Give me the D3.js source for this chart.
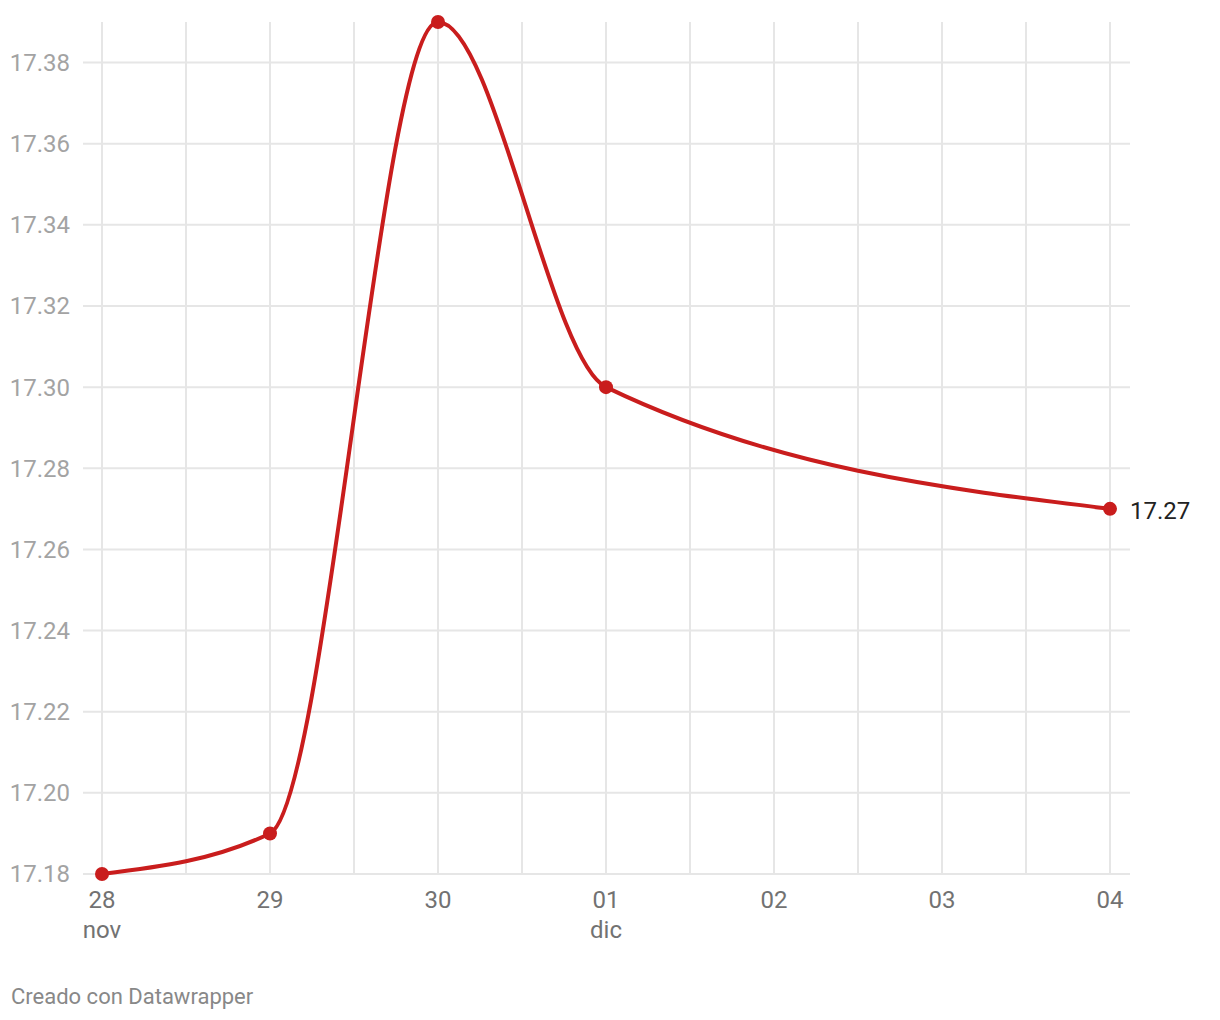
<!DOCTYPE html>
<html>
<head>
<meta charset="utf-8">
<script src="https://cdn.jsdelivr.net/npm/d3@7"></script>
<style>
  html, body { margin: 0; padding: 0; background: #fff; }
  svg { display: block; font-family: Roboto, "Noto Sans", sans-serif; }
</style>
</head>
<body>
<svg id="chart" width="1220" height="1020"></svg>
<script>
// ---- data ----
const dates = ["2023-11-28", "2023-11-29", "2023-11-30", "2023-12-01", "2023-12-04"];
const values = [17.18, 17.19, 17.39, 17.30, 17.27];
const yTicks = [17.18, 17.20, 17.22, 17.24, 17.26, 17.28, 17.30, 17.32, 17.34, 17.36, 17.38];
const xTickDates = ["2023-11-28", "2023-11-29", "2023-11-30", "2023-12-01", "2023-12-02", "2023-12-03", "2023-12-04"];
const xTickLabels = ["28", "29", "30", "01", "02", "03", "04"];
const xMonthLabels = ["nov", "", "", "dic", "", "", ""];
const footerText = "Creado con Datawrapper";

const parse = d3.utcParse("%Y-%m-%d");
const data = dates.map((d, i) => ({ date: parse(d), value: values[i] }));

const svg = d3.select("#chart");
const mLeft = 102, mRight = 1110, mTop = 22, mBottom = 874;

const x = d3.scaleUtc()
  .domain([parse(dates[0]), parse(dates[dates.length - 1])])
  .range([mLeft, mRight]);
const y = d3.scaleLinear()
  .domain([17.18, 17.39])
  .range([mBottom, mTop]);

// vertical gridlines every 12 hours
const gridTimes = d3.utcHour.every(12).range(x.domain()[0], d3.utcHour.offset(x.domain()[1], 1));
svg.append("g")
  .selectAll("line")
  .data(gridTimes)
  .join("line")
  .attr("x1", d => x(d)).attr("x2", d => x(d))
  .attr("y1", mTop).attr("y2", mBottom)
  .attr("stroke", "#e6e6e6").attr("stroke-width", 2);

// horizontal gridlines
svg.append("g")
  .selectAll("line")
  .data(yTicks)
  .join("line")
  .attr("x1", 83).attr("x2", 1130)
  .attr("y1", d => y(d)).attr("y2", d => y(d))
  .attr("stroke", "#e6e6e6").attr("stroke-width", 2);

// y labels
svg.append("g")
  .selectAll("text")
  .data(yTicks)
  .join("text")
  .attr("x", 70)
  .attr("y", d => y(d))
  .attr("dy", "0.35em")
  .attr("text-anchor", "end")
  .attr("fill", "#a3a3a3")
  .attr("font-size", 24)
  .text(d => d.toFixed(2));

// x labels
const xg = svg.append("g");
xTickDates.forEach((d, i) => {
  const t = parse(d);
  xg.append("text")
    .attr("x", x(t)).attr("y", 908)
    .attr("text-anchor", "middle")
    .attr("fill", "#727272")
    .attr("font-size", 24)
    .text(xTickLabels[i]);
  if (xMonthLabels[i]) {
    xg.append("text")
      .attr("x", x(t)).attr("y", 938)
      .attr("text-anchor", "middle")
      .attr("fill", "#727272")
      .attr("font-size", 24)
      .text(xMonthLabels[i]);
  }
});

// line
const line = d3.line()
  .x(d => x(d.date))
  .y(d => y(d.value))
  .curve(d3.curveMonotoneX);

svg.append("path")
  .datum(data)
  .attr("d", line)
  .attr("fill", "none")
  .attr("stroke", "#c91d1d")
  .attr("stroke-width", 4)
  .attr("stroke-linejoin", "round")
  .attr("stroke-linecap", "round");

// dots
svg.append("g")
  .selectAll("circle")
  .data(data)
  .join("circle")
  .attr("cx", d => x(d.date))
  .attr("cy", d => y(d.value))
  .attr("r", 7)
  .attr("fill", "#c91d1d");

// end label
const last = data[data.length - 1];
svg.append("text")
  .attr("x", x(last.date) + 20)
  .attr("y", y(last.value) + 2)
  .attr("dy", "0.35em")
  .attr("fill", "#222")
  .attr("font-size", 24)
  .text(last.value.toFixed(2));

// footer
svg.append("text")
  .attr("x", 11).attr("y", 1004)
  .attr("fill", "#888")
  .attr("font-size", 22)
  .text(footerText);
</script>
</body>
</html>
